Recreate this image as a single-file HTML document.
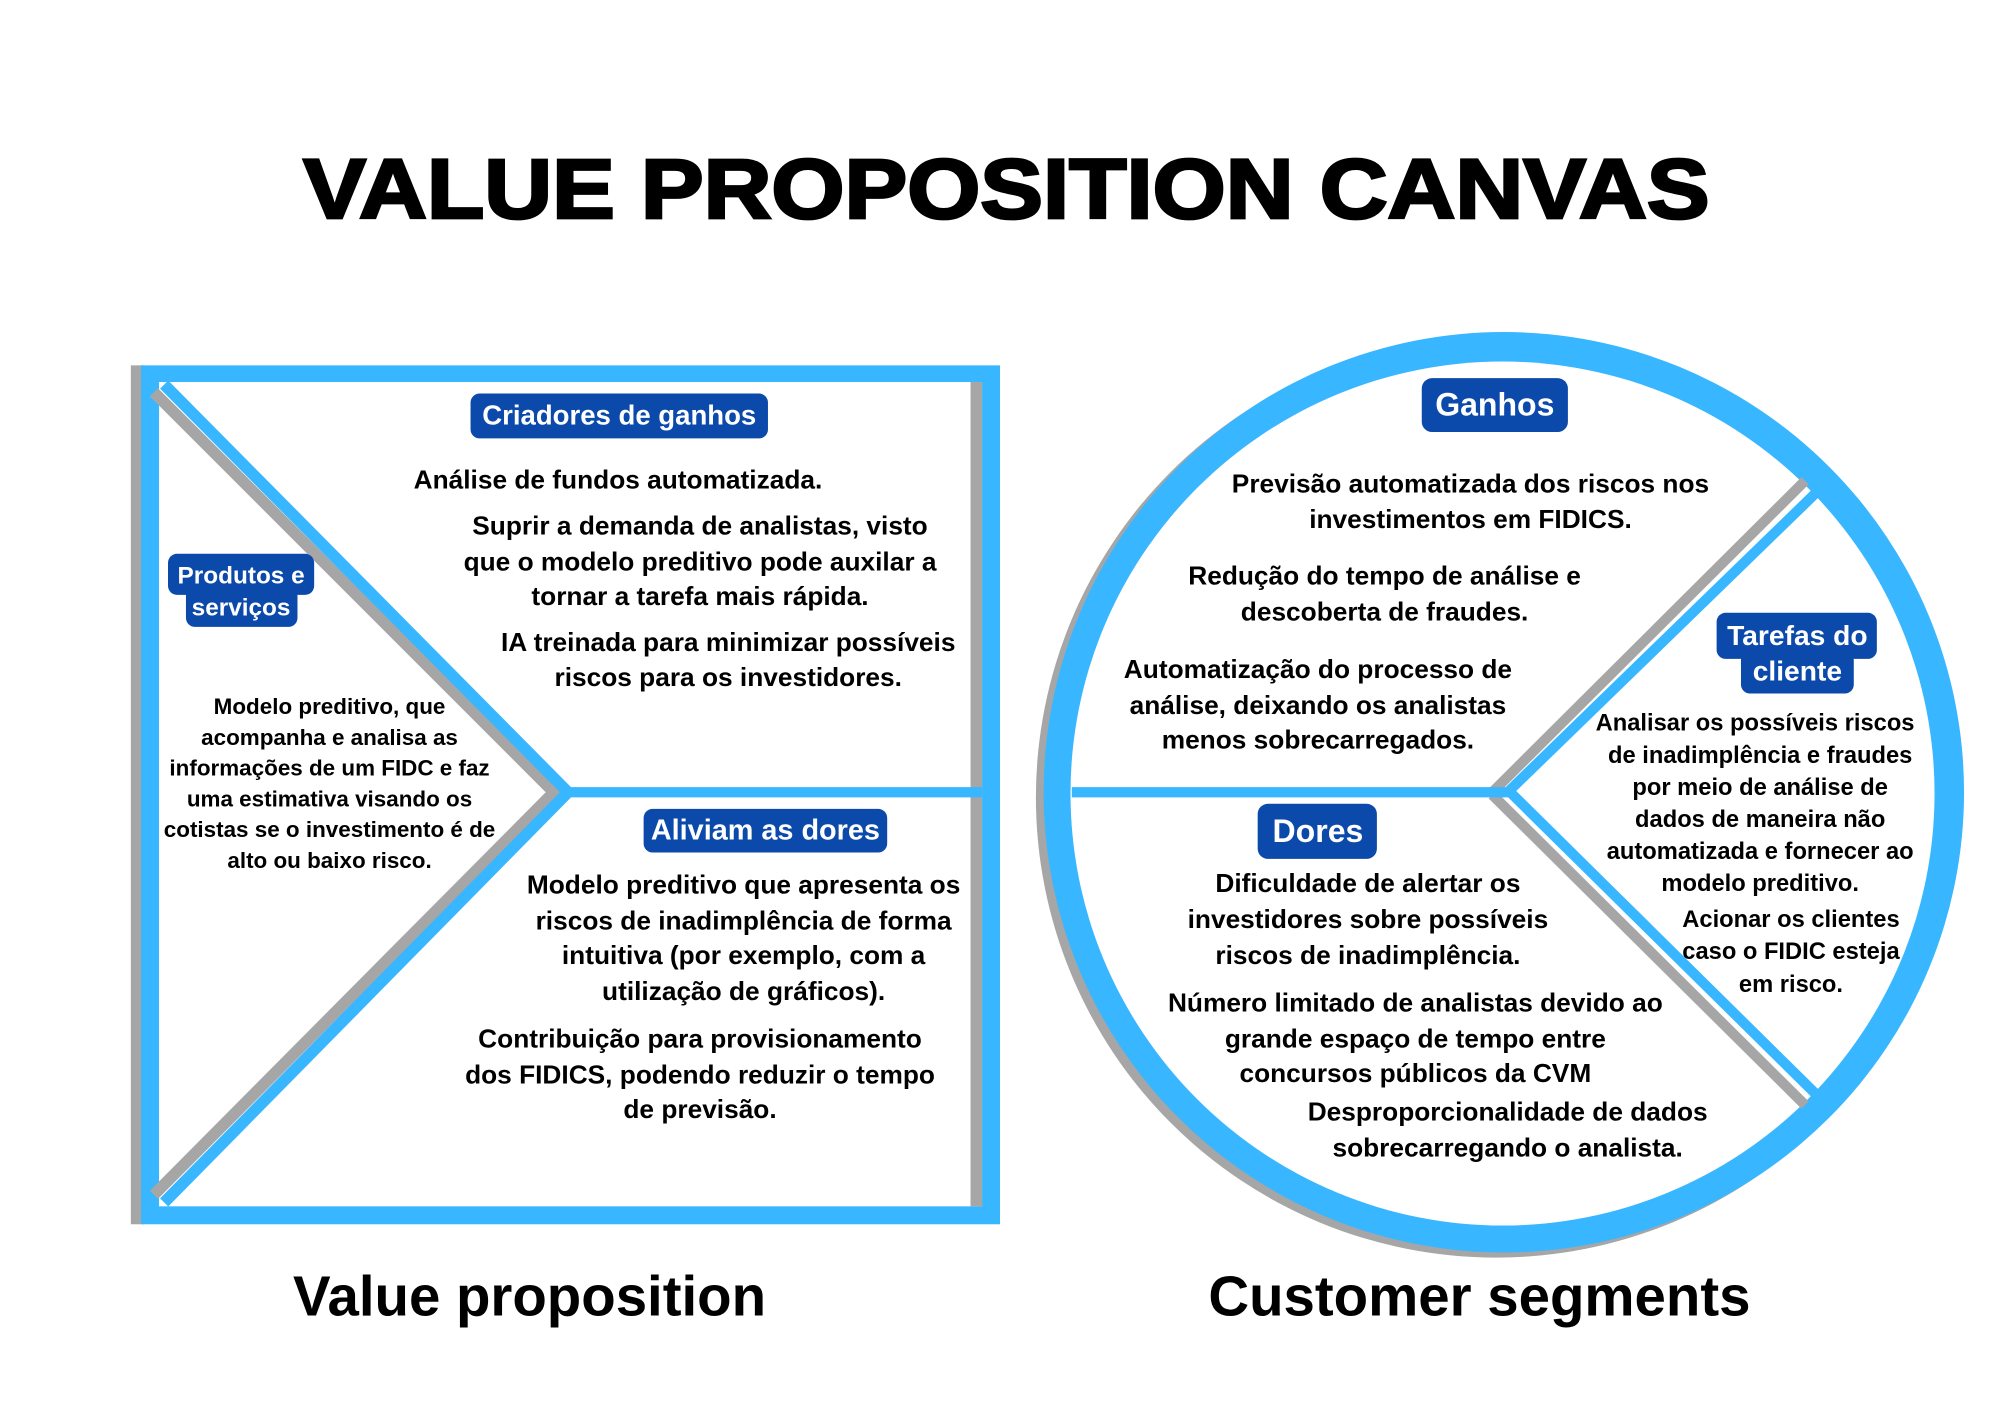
<!DOCTYPE html>
<html><head><meta charset="utf-8"><style>
html,body{margin:0;padding:0;background:#fff;}
svg{display:block;}
text{font-family:"Liberation Sans","DejaVu Sans",sans-serif;font-weight:bold;fill:#000;}
.lbl{fill:#fff;}
</style></head><body>
<svg width="2000" height="1414" viewBox="0 0 1560 1103" xmlns="http://www.w3.org/2000/svg">
<rect x="0" y="0" width="1560" height="1103" fill="#fff"/>
<text x="785" y="170" font-size="66" text-anchor="middle" textLength="1097" lengthAdjust="spacingAndGlyphs" stroke="#000" stroke-width="2.2">VALUE PROPOSITION CANVAS</text>

<g>
<rect x="102" y="285" width="10" height="670" fill="#a6a6a6"/>
<rect x="110" y="285" width="670" height="670" fill="#38b6ff"/>
<rect x="124" y="298" width="642" height="643" fill="#fff"/>
<rect x="757" y="298" width="9" height="643" fill="#a6a6a6"/>
<polyline points="120,306 432,618 120,932" fill="none" stroke="#a6a6a6" stroke-width="9"/>
<polyline points="128,300 443,618 128,938" fill="none" stroke="#38b6ff" stroke-width="9"/>
<rect x="443" y="614" width="323" height="8" fill="#38b6ff"/>
</g>

<g>
<circle cx="1167" cy="622" r="359" fill="#a6a6a6"/>
<circle cx="1173" cy="618" r="359" fill="#38b6ff"/>
<circle cx="1172" cy="619" r="337" fill="#fff"/>
<line x1="1164" y1="618" x2="1408" y2="375" stroke="#a6a6a6" stroke-width="8"/>
<line x1="1176" y1="618" x2="1418" y2="383" stroke="#38b6ff" stroke-width="8"/>
<line x1="1164" y1="620" x2="1408" y2="862" stroke="#a6a6a6" stroke-width="8"/>
<line x1="1178" y1="618" x2="1418" y2="855" stroke="#38b6ff" stroke-width="8"/>
<rect x="836" y="614" width="342" height="8" fill="#38b6ff"/>
</g>

<g>
<rect x="367" y="307" width="232" height="35" rx="7" fill="#0b4aab"/>
<text class="lbl" x="483" y="331" font-size="21.5" text-anchor="middle">Criadores de ganhos</text>
</g>
<g>
<rect x="131" y="432" width="114" height="32" rx="7" fill="#0b4aab"/>
<rect x="145" y="458" width="87" height="31" rx="7" fill="#0b4aab"/>
<text class="lbl" x="188" y="455" font-size="19" text-anchor="middle">Produtos e</text>
<text class="lbl" x="188" y="480" font-size="19" text-anchor="middle">serviços</text>
</g>
<g>
<rect x="502" y="631" width="190" height="34" rx="7" fill="#0b4aab"/>
<text class="lbl" x="597" y="655" font-size="22.5" text-anchor="middle">Aliviam as dores</text>
</g>
<g>
<rect x="1109" y="295" width="114" height="42" rx="8" fill="#0b4aab"/>
<text class="lbl" x="1166" y="324" font-size="25" text-anchor="middle">Ganhos</text>
</g>
<g>
<rect x="1339" y="478" width="125" height="36" rx="7" fill="#0b4aab"/>
<rect x="1358" y="508" width="88" height="33" rx="7" fill="#0b4aab"/>
<text class="lbl" x="1402" y="503" font-size="22" text-anchor="middle">Tarefas do</text>
<text class="lbl" x="1402" y="531" font-size="22" text-anchor="middle">cliente</text>
</g>
<g>
<rect x="981" y="627" width="93" height="43" rx="8" fill="#0b4aab"/>
<text class="lbl" x="1028" y="657" font-size="25" text-anchor="middle">Dores</text>
</g>

<g font-size="20.5" text-anchor="middle">
<text x="482" y="381">Análise de fundos automatizada.</text>
<text x="546" y="417">Suprir a demanda de analistas, visto</text>
<text x="546" y="445">que o modelo preditivo pode auxilar a</text>
<text x="546" y="472">tornar a tarefa mais rápida.</text>
<text x="568" y="508">IA treinada para minimizar possíveis</text>
<text x="568" y="535">riscos para os investidores.</text>
</g>
<g font-size="17.5" text-anchor="middle">
<text x="257" y="557">Modelo preditivo, que</text>
<text x="257" y="581">acompanha e analisa as</text>
<text x="257" y="605">informações de um FIDC e faz</text>
<text x="257" y="629">uma estimativa visando os</text>
<text x="257" y="653">cotistas se o investimento é de</text>
<text x="257" y="677">alto ou baixo risco.</text>
</g>
<g font-size="20.5" text-anchor="middle">
<text x="580" y="697">Modelo preditivo que apresenta os</text>
<text x="580" y="725">riscos de inadimplência de forma</text>
<text x="580" y="752">intuitiva (por exemplo, com a</text>
<text x="580" y="780">utilização de gráficos).</text>
<text x="546" y="817">Contribuição para provisionamento</text>
<text x="546" y="845">dos FIDICS, podendo reduzir o tempo</text>
<text x="546" y="872">de previsão.</text>
</g>
<g font-size="20.5" text-anchor="middle">
<text x="1147" y="384">Previsão automatizada dos riscos nos</text>
<text x="1147" y="412">investimentos em FIDICS.</text>
<text x="1080" y="456">Redução do tempo de análise e</text>
<text x="1080" y="484">descoberta de fraudes.</text>
<text x="1028" y="529">Automatização do processo de</text>
<text x="1028" y="557">análise, deixando os analistas</text>
<text x="1028" y="584">menos sobrecarregados.</text>
</g>
<g font-size="18.5" text-anchor="middle">
<text x="1369" y="570">Analisar os possíveis riscos</text>
<text x="1373" y="595">de inadimplência e fraudes</text>
<text x="1373" y="620">por meio de análise de</text>
<text x="1373" y="645">dados de maneira não</text>
<text x="1373" y="670">automatizada e fornecer ao</text>
<text x="1373" y="695">modelo preditivo.</text>
<text x="1397" y="723">Acionar os clientes</text>
<text x="1397" y="748">caso o FIDIC esteja</text>
<text x="1397" y="774">em risco.</text>
</g>
<g font-size="20.5" text-anchor="middle">
<text x="1067" y="696">Dificuldade de alertar os</text>
<text x="1067" y="724">investidores sobre possíveis</text>
<text x="1067" y="752">riscos de inadimplência.</text>
<text x="1104" y="789">Número limitado de analistas devido ao</text>
<text x="1104" y="817">grande espaço  de tempo entre</text>
<text x="1104" y="844">concursos públicos da CVM</text>
<text x="1176" y="874">Desproporcionalidade de dados</text>
<text x="1176" y="902">sobrecarregando o analista.</text>
</g>

<text x="413" y="1026" font-size="44" text-anchor="middle">Value proposition</text>
<text x="1154" y="1026" font-size="44" text-anchor="middle">Customer segments</text>
</svg>
</body></html>
